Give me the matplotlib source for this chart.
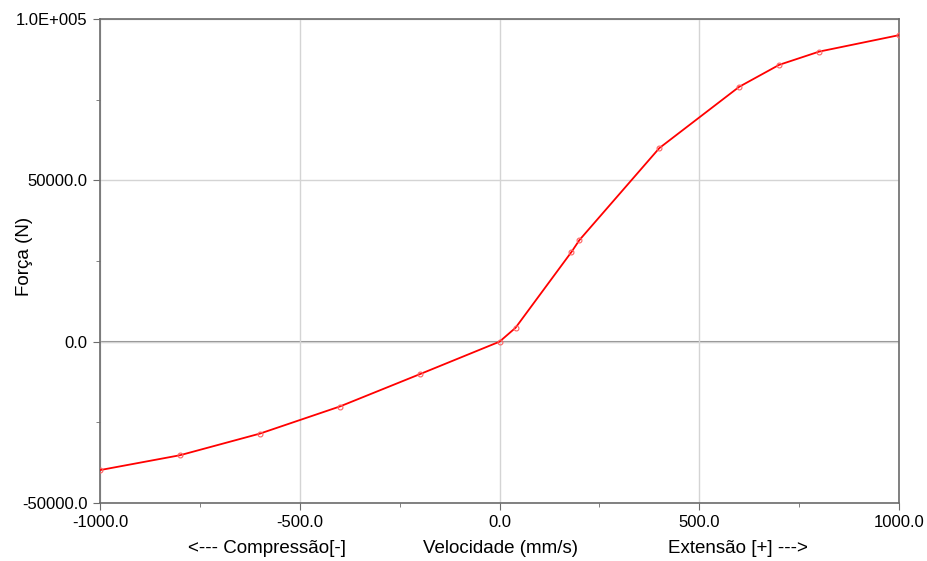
import numpy as np
import matplotlib
matplotlib.use("Agg")
import matplotlib.pyplot as plt

plt.rcParams['font.family'] = ['Liberation Sans', 'DejaVu Sans']

# Curva força x velocidade (amortecedor)
velocidade = [-1000, -800, -600, -400, -200, 0, 40, 180, 200, 400, 600, 700, 800, 1000]
forca = [-39800, -35200, -28500, -20100, -10100, 0, 4300, 27800, 31500,
         60000, 79000, 85800, 89900, 95000]

x_ticks = [-1000, -500, 0, 500, 1000]
x_labels = ["-1000.0", "-500.0", "0.0", "500.0", "1000.0"]
y_ticks = [-50000, 0, 50000, 100000]
y_labels = ["-50000.0", "0.0", "50000.0", "1.0E+005"]

fig = plt.figure(figsize=(9.28, 5.61), dpi=100)
ax = fig.add_axes([0.1078, 0.1034, 0.8610, 0.8627])

ax.plot(velocidade, forca, color="#ff0000", lw=1.3, zorder=3)
ax.plot(velocidade, forca, ls="none", marker="o", ms=3.5, mfc="none",
        mec="#ff6060", mew=0.8, zorder=4)

ax.set_xlim(-1000, 1000)
ax.set_ylim(-50000, 100000)
ax.set_xticks(x_ticks)
ax.set_xticklabels(x_labels)
ax.set_yticks(y_ticks)
ax.set_yticklabels(y_labels)
ax.set_xticks([-750, -250, 250, 750], minor=True)
ax.set_yticks([-25000, 25000, 75000], minor=True)

ax.grid(True, which="major", color="#d4d4d4", lw=1.0, zorder=0)
ax.axhline(0, color="#8c8c8c", lw=1.5, zorder=1)

for s in ax.spines.values():
    s.set_color("#6b6b6b")
    s.set_linewidth(1.2)
ax.tick_params(which="major", length=5, color="#6b6b6b", labelsize=12, pad=4)
ax.tick_params(which="minor", length=3, color="#6b6b6b")

ax.set_ylabel("Força (N)", fontsize=13.5)
ax.yaxis.set_label_coords(-0.084, 0.51)
fig.text(0.539, 0.023, "Velocidade (mm/s)", fontsize=13.5, ha="center", va="center")
fig.text(0.288, 0.023, "<--- Compressão[-]", fontsize=13.5, ha="center", va="center")
fig.text(0.795, 0.023, "Extensão [+] --->", fontsize=13.5, ha="center", va="center")

plt.savefig("out.png", dpi=100)
plt.close()
